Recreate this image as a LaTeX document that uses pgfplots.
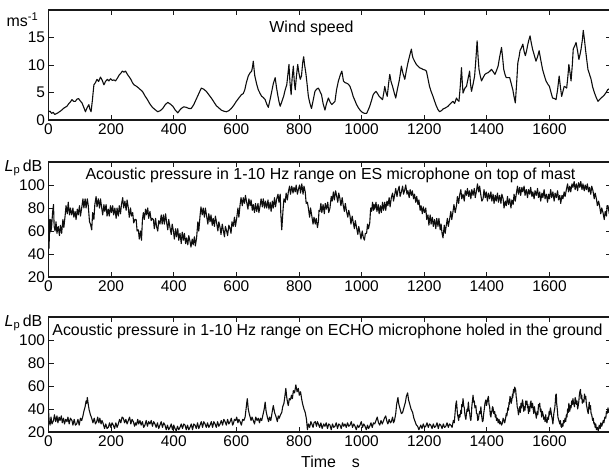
\documentclass[border=0pt]{standalone}
\usepackage{fontspec}
\setmainfont{Liberation Sans}
\usepackage{pgfplots}
\usepackage{pgfplotstable}
\pgfplotsset{compat=1.18}

\pgfplotstableread{
x y
0 1.5
5 1.6
10 1.2
15 1.4
20 1.0
30 1.3
40 1.7
50 2.2
59 2.5
65 3.0
70 3.3
75 3.7
80 3.4
86 3.4
91 3.8
96 3.9
101 3.5
107 3.1
112 2.4
118 1.5
123 2.2
129 2.8
132 2.0
136 1.5
140 3.5
145 6.4
150 6.8
155 7.4
160 7.0
166 7.8
171 7.3
177 6.4
182 7.0
188 7.4
193 7.1
198 7.5
204 7.2
209 7.3
214 7.1
220 7.6
226 8.2
231 8.5
236 8.9
241 8.7
246 8.9
252 8.3
257 7.9
263 7.4
268 6.8
273 6.4
279 6.2
284 6.0
292 5.6
300 5.2
308 4.4
316 3.7
324 2.9
332 2.3
340 1.9
349 1.5
357 1.7
365 2.1
373 2.8
381 3.2
389 2.9
397 2.5
405 1.8
413 1.3
418 1.7
424 2.1
432 2.4
440 2.3
448 2.1
456 2.1
464 2.8
472 3.8
480 4.8
488 5.8
496 5.6
504 5.2
512 4.6
520 4.0
528 3.3
536 2.6
544 2.2
552 1.8
560 1.6
568 1.5
576 1.7
584 2.1
592 2.7
600 3.4
608 4.0
616 4.6
622 4.8
627 5.5
632 6.8
638 8.0
644 8.6
649 8.9
652 9.8
654 10.7
657 9.0
659 8.0
665 6.5
670 5.5
676 4.8
681 4.3
686 4.1
692 3.7
697 2.9
702 2.3
708 3.8
713 5.2
718 6.6
724 7.7
728 6.0
732 4.6
736 3.4
740 2.5
745 3.3
751 4.3
756 5.5
761 6.4
765 8.5
768 10.1
771 7.0
775 4.6
778 7.5
782 9.8
785 7.0
788 5.5
792 8.0
796 10.1
800 8.5
804 7.4
808 8.0
812 10.5
815 11.5
818 10.0
822 8.5
826 6.5
830 4.3
835 3.0
840 2.1
845 3.5
851 5.2
856 5.6
862 5.8
867 5.2
872 4.6
877 3.0
883 1.8
888 3.0
894 4.0
900 3.2
905 2.8
910 3.1
915 3.4
920 5.5
926 7.1
932 8.2
937 8.9
942 7.1
947 6.8
952 6.7
958 6.5
963 6.1
968 5.3
973 4.3
979 3.5
984 2.8
990 2.2
995 1.8
1000 1.5
1005 1.3
1010 1.2
1016 1.2
1021 1.8
1026 2.5
1032 3.6
1037 4.6
1042 5.0
1046 5.2
1051 4.8
1056 4.3
1062 4.0
1067 3.7
1071 5.0
1074 6.1
1078 5.0
1082 4.3
1086 6.5
1090 8.3
1094 7.0
1099 6.1
1104 5.0
1109 4.0
1114 5.5
1120 7.1
1124 8.5
1127 9.8
1132 8.5
1138 7.4
1143 9.0
1148 10.4
1154 11.8
1159 12.9
1162 11.8
1164 11.3
1170 10.6
1175 10.1
1180 9.8
1185 9.5
1190 9.4
1196 9.2
1202 9.1
1207 8.9
1212 7.5
1217 6.1
1222 5.2
1228 4.3
1234 3.3
1239 2.5
1244 1.9
1249 1.5
1255 1.7
1260 2.0
1268 2.2
1276 2.5
1284 3.0
1292 3.4
1297 3.0
1303 4.0
1307 3.6
1311 3.4
1315 6.0
1319 9.5
1322 6.5
1324 4.9
1330 5.8
1335 6.1
1340 7.5
1345 8.9
1348 6.5
1351 5.2
1356 6.5
1361 8.0
1365 11.0
1369 14.4
1372 11.5
1375 9.2
1379 8.0
1383 7.1
1389 7.8
1394 8.3
1399 8.5
1404 8.6
1410 8.9
1415 9.2
1420 8.8
1426 8.3
1431 9.0
1436 9.8
1441 11.5
1447 13.2
1451 11.0
1454 9.2
1458 8.3
1462 7.7
1468 7.7
1473 7.7
1478 6.6
1483 5.5
1487 4.2
1491 3.1
1495 6.5
1499 10.4
1503 11.5
1506 12.6
1511 13.2
1515 13.8
1519 12.5
1523 11.7
1527 12.6
1530 13.5
1534 14.5
1538 15.3
1542 14.0
1546 12.9
1552 11.7
1557 10.7
1562 11.5
1567 12.6
1572 11.0
1578 9.2
1584 8.0
1589 7.1
1595 6.5
1600 6.1
1605 5.0
1610 4.0
1616 3.9
1621 3.7
1626 5.5
1631 8.0
1635 6.0
1639 4.3
1643 5.2
1647 6.1
1651 6.0
1655 5.8
1659 8.0
1662 10.1
1666 8.5
1669 7.1
1673 10.0
1676 12.9
1681 13.5
1685 14.1
1690 12.5
1694 11.0
1698 12.0
1701 12.9
1705 14.5
1708 16.3
1712 14.5
1715 12.9
1719 11.0
1723 9.2
1728 8.3
1733 7.4
1738 6.0
1744 4.9
1750 4.0
1755 3.4
1760 3.7
1765 4.0
1771 4.3
1776 4.6
1781 5.0
1786 5.5
1795 5.8
}\wind

\pgfplotstableread{
x y
0 74
1 60
2 45
3 70
4 58
5 66
7 70
8 60
10 64
13 76
16 83
18 64
21 60
24 68
27 58
31 64
35 56
38 65
42 58
46 70
49 63
53 73
56 82
60 75
63 85
67 74
70 80
74 74
78 80
81 72
85 77
88 70
92 79
95 74
99 82
102 73
106 80
110 88
113 80
117 88
120 80
124 88
127 82
131 68
134 66
138 61
141 76
145 70
148 83
152 90
155 81
159 88
163 80
166 88
170 80
173 74
177 83
180 77
184 83
187 73
191 79
194 73
198 82
201 76
205 82
208 74
212 80
216 71
219 80
223 73
226 82
230 75
233 83
237 89
240 80
244 86
248 78
251 87
255 80
258 72
262 80
265 73
269 76
272 67
276 70
280 70
283 60
287 61
290 53
294 60
297 52
300 70
303 76
306 70
310 79
313 74
317 80
320 71
324 77
328 69
331 71
335 70
338 62
342 71
345 64
349 60
352 69
356 66
360 74
363 66
367 74
370 66
374 75
377 68
381 61
384 70
388 63
392 57
395 66
399 60
402 53
406 62
409 55
413 62
416 52
420 58
424 49
427 59
431 52
434 58
438 49
441 54
445 48
448 56
452 51
455 46
459 53
462 48
466 55
469 47
473 54
477 68
480 60
484 73
487 81
491 74
494 80
498 72
501 80
505 73
509 66
512 75
516 68
519 74
523 65
526 71
530 64
533 73
537 67
541 60
544 68
548 63
551 57
555 66
558 61
562 55
565 64
569 60
572 56
576 65
579 63
583 58
586 68
590 64
594 72
597 64
601 71
605 80
608 72
612 83
615 89
619 82
622 89
626 84
629 91
633 85
637 79
640 88
644 82
647 87
651 78
654 83
658 76
661 84
665 77
669 84
672 76
676 82
679 88
683 81
686 88
690 80
693 86
697 80
701 87
704 79
708 85
711 77
715 86
718 80
722 89
725 81
729 88
733 92
736 85
740 92
742 75
745 61
749 78
752 88
756 85
759 93
763 87
766 94
770 99
773 92
777 99
781 93
784 98
788 94
791 100
795 92
798 96
802 100
805 93
809 101
813 92
816 99
820 94
823 84
827 85
830 80
834 72
837 80
841 73
845 66
848 72
852 66
855 71
859 63
862 68
864 78
867 77
870 84
873 76
877 83
881 75
884 84
888 79
892 85
895 76
899 80
903 90
906 86
910 94
913 87
917 95
920 91
924 85
927 93
931 88
934 82
938 89
941 83
945 77
948 84
952 77
956 72
959 78
963 73
966 66
970 73
973 68
977 62
980 69
984 63
988 57
991 64
995 58
998 53
1002 60
1005 55
1009 52
1012 58
1016 58
1019 66
1022 62
1026 67
1029 80
1032 77
1035 85
1038 78
1040 83
1042 79
1046 85
1049 77
1053 83
1056 75
1060 82
1063 76
1067 85
1070 78
1074 85
1077 78
1081 86
1084 82
1088 89
1091 81
1095 89
1099 93
1102 86
1106 92
1109 97
1113 90
1116 95
1120 99
1123 90
1127 94
1131 99
1134 92
1138 96
1141 100
1145 92
1148 95
1152 89
1155 96
1159 91
1162 95
1166 88
1169 92
1173 85
1176 90
1180 83
1183 87
1187 78
1190 82
1194 75
1197 81
1201 76
1205 80
1208 70
1212 74
1215 65
1219 74
1222 66
1226 72
1229 64
1233 70
1237 62
1240 71
1244 64
1247 71
1251 61
1254 66
1257 58
1260 54
1264 65
1267 58
1270 64
1274 71
1277 64
1281 70
1285 77
1288 70
1292 77
1295 83
1299 76
1303 82
1306 90
1310 84
1313 91
1317 96
1320 88
1324 92
1328 86
1331 95
1335 91
1338 97
1342 90
1345 95
1349 88
1352 96
1356 91
1360 97
1363 89
1367 95
1370 101
1374 94
1377 99
1381 91
1384 86
1388 88
1391 96
1395 89
1398 94
1402 86
1405 93
1409 88
1413 94
1416 86
1420 92
1423 84
1427 91
1430 86
1434 93
1437 85
1441 91
1445 84
1448 92
1452 88
1455 80
1459 86
1462 82
1466 90
1469 83
1473 88
1477 80
1480 87
1484 83
1487 92
1491 86
1494 92
1498 99
1501 92
1505 98
1508 91
1512 98
1515 94
1519 99
1522 91
1526 96
1530 89
1533 96
1537 92
1540 98
1544 90
1547 94
1551 88
1554 95
1558 91
1562 97
1565 89
1569 94
1572 86
1576 93
1579 89
1583 96
1586 88
1590 92
1594 85
1597 92
1600 88
1604 96
1607 89
1611 94
1615 86
1618 93
1622 89
1626 95
1629 87
1633 91
1636 84
1640 91
1643 88
1647 94
1650 90
1654 96
1658 101
1661 94
1665 99
1668 94
1672 101
1675 98
1679 103
1682 96
1686 101
1690 95
1693 102
1697 98
1700 103
1704 96
1707 101
1711 95
1714 100
1718 96
1721 101
1725 94
1728 98
1732 92
1735 99
1739 95
1743 88
1746 93
1750 88
1753 82
1757 86
1760 82
1764 75
1767 80
1771 76
1775 70
1778 77
1782 73
1784 82
1787 82
1791 75
1795 78
}\esmic

\pgfplotstableread{
x y
0 39
2 30
5 26
8 33
11 27
16 30
19 35
23 29
27 34
30 28
34 33
37 30
41 34
44 28
48 32
51 27
55 31
59 29
62 33
66 27
70 32
75 30
78 26
82 31
86 26
90 27
94 31
98 26
102 32
106 30
110 34
113 38
117 42
120 47
122 45
124 50
127 44
130 39
134 35
138 32
142 28
146 32
150 27
154 29
157 33
161 28
164 32
168 27
171 30
175 27
179 23
183 27
187 23
191 24
195 28
199 24
203 28
207 26
211 23
215 28
219 24
223 27
227 31
231 28
235 33
239 32
243 28
247 31
251 27
255 30
259 33
263 27
267 31
271 29
275 25
278 28
281 26
285 31
288 27
292 30
296 26
300 29
304 24
308 26
312 30
316 25
320 29
324 27
328 30
332 25
336 29
340 27
344 24
348 28
352 23
356 26
360 29
364 24
368 28
372 26
376 22
380 26
384 22
388 24
392 27
396 22
400 26
404 23
408 21
412 25
416 22
420 24
424 27
428 23
432 27
436 26
440 22
444 26
448 22
452 24
456 27
460 22
464 27
468 26
472 23
476 28
480 23
484 26
488 29
492 24
496 29
500 27
504 24
508 28
512 24
516 26
520 29
524 24
528 29
532 27
536 24
540 29
544 25
548 27
552 30
556 26
560 31
564 29
568 26
572 31
576 27
580 29
584 32
588 26
590 27
594 31
598 30
601 33
605 28
608 31
612 29
616 26
620 31
624 30
628 33
631 40
633 45
635 49
638 40
641 36
644 33
647 30
650 33
654 30
658 27
662 33
666 30
670 32
674 28
677 32
681 30
685 35
689 40
692 46
695 38
699 33
703 29
706 33
710 30
713 35
716 40
718 43
722 37
727 33
731 29
734 34
737 32
741 35
745 37
748 42
752 45
755 51
758 58
761 50
764 45
766 43
769 49
773 48
776 52
779 49
782 56
786 54
790 61
794 55
798 58
801 52
805 55
809 48
812 44
816 40
820 37
824 31
827 22
830 27
834 24
838 29
841 27
845 24
848 28
852 29
856 25
859 29
862 27
866 24
870 28
874 23
879 27
883 25
887 28
891 23
895 27
899 26
903 22
907 27
911 24
915 25
919 28
923 23
927 27
931 26
935 23
939 28
943 25
947 27
951 24
955 28
959 25
963 26
967 29
971 24
975 27
979 25
983 22
987 26
991 24
995 26
999 29
1003 24
1007 27
1011 25
1015 22
1019 26
1022 23
1026 25
1030 28
1034 24
1038 28
1042 27
1046 30
1050 33
1054 28
1058 26
1062 30
1066 27
1069 29
1073 32
1077 34
1081 29
1084 27
1088 31
1092 28
1095 29
1099 33
1102 28
1105 30
1109 36
1112 44
1116 50
1119 44
1123 40
1127 36
1131 37
1135 41
1140 46
1143 51
1147 54
1150 48
1154 44
1158 40
1163 37
1167 32
1171 29
1175 26
1179 25
1183 22
1189 26
1193 23
1197 27
1201 24
1205 25
1209 28
1213 24
1217 27
1221 26
1225 23
1229 27
1233 24
1237 25
1241 28
1245 23
1249 27
1253 26
1257 23
1261 27
1265 24
1269 25
1273 28
1277 24
1281 27
1285 26
1289 24
1293 30
1296 28
1299 38
1301 44
1303 47
1305 40
1306 36
1308 33
1310 30
1312 35
1314 33
1317 39
1319 36
1320 44
1322 42
1324 49
1326 43
1328 41
1330 35
1333 31
1335 36
1337 40
1339 38
1341 46
1343 40
1345 37
1347 32
1349 30
1351 36
1352 42
1354 47
1356 52
1358 46
1360 47
1362 41
1365 43
1367 36
1369 36
1371 30
1373 31
1375 35
1377 38
1379 36
1381 42
1383 35
1384 33
1386 29
1388 30
1390 36
1392 40
1394 45
1397 48
1399 43
1401 46
1403 49
1405 51
1407 44
1409 42
1411 35
1413 33
1415 38
1416 37
1418 42
1420 41
1422 36
1425 38
1427 33
1429 35
1431 30
1434 32
1436 28
1439 31
1441 27
1444 29
1447 26
1450 28
1452 32
1455 30
1457 28
1460 32
1462 36
1464 34
1467 41
1469 39
1471 46
1472 44
1474 51
1476 49
1478 45
1480 48
1482 53
1483 50
1485 57
1487 54
1489 59
1492 57
1494 50
1495 49
1497 42
1499 40
1501 35
1503 38
1505 42
1507 37
1509 45
1511 41
1514 48
1516 44
1518 38
1520 42
1522 39
1524 47
1526 44
1528 47
1530 41
1531 44
1533 36
1535 42
1537 38
1539 45
1541 47
1543 41
1546 45
1548 40
1550 36
1552 42
1554 38
1556 36
1558 32
1561 38
1563 35
1565 44
1567 42
1569 45
1571 38
1573 40
1575 33
1577 38
1580 35
1582 31
1584 33
1586 29
1588 35
1590 30
1592 28
1595 33
1597 31
1599 38
1601 35
1603 41
1605 38
1607 34
1609 31
1611 27
1612 30
1614 36
1617 41
1619 47
1620 52
1622 53
1623 45
1625 40
1627 33
1629 31
1631 29
1633 27
1635 30
1637 25
1639 24
1641 27
1643 25
1645 30
1647 28
1650 32
1652 29
1654 35
1656 33
1658 40
1660 37
1662 45
1663 42
1665 38
1667 43
1669 41
1671 47
1673 44
1675 49
1677 45
1680 42
1682 50
1684 48
1686 44
1688 47
1690 40
1692 43
1694 47
1695 51
1697 55
1699 57
1701 49
1703 52
1705 45
1708 48
1710 46
1712 53
1714 49
1716 51
1718 44
1720 41
1722 38
1724 36
1726 43
1727 46
1729 40
1731 43
1733 36
1735 35
1738 30
1740 32
1742 27
1744 28
1746 24
1748 27
1750 22
1753 24
1756 21
1759 26
1762 23
1764 28
1767 25
1769 27
1772 30
1774 28
1777 33
1780 32
1782 38
1784 36
1787 41
1789 37
1791 39
1795 42
}\echomic

\pgfplotsset{
  panel/.style={
    scale only axis, width=562bp,
    xmin=0, xmax=1795,
    xtick={0,200,400,600,800,1000,1200,1400,1600},
    tick align=inside, major tick length=5bp,
    tick style={line width=0.9pt, black!90},
    axis line style={line width=1.1pt, black!90},
    tick label style={font=\fontsize{15.5}{17}\selectfont, text=black},
    /pgf/number format/assume math mode=true,
    /pgf/number format/1000 sep={},
    anchor=south west,
  },
  trace/.style={line width=1.1pt, black!95, line join=round},
}

\begin{document}
\begin{tikzpicture}
\path[use as bounding box] (-48.5bp,-473bp) rectangle (560.5bp,0bp);

\begin{axis}[panel, at={(0bp,-120bp)}, height=110bp,
  ymin=0, ymax=20, ytick={0,5,10,15}]
  \addplot[trace] table[x=x,y=y] {\wind};
\end{axis}

\begin{axis}[panel, at={(0bp,-277bp)}, height=115bp,
  ymin=20, ymax=120, ytick={20,40,60,80,100}]
  \addplot[trace] table[x=x,y=y] {\esmic};
\end{axis}

\begin{axis}[panel, at={(0bp,-432bp)}, height=115bp,
  ymin=20, ymax=120, ytick={20,40,60,80,100}]
  \addplot[trace] table[x=x,y=y] {\echomic};
\end{axis}

\begin{scope}[every node/.style={font=\fontsize{16}{19}\selectfont, text=black, inner sep=0pt}]
\node at (263bp,-28bp) {Wind speed};
\node at (282bp,-175bp) {Acoustic pressure in 1-10 Hz range on ES microphone on top of mast};
\node at (279bp,-331bp) {Acoustic pressure in 1-10 Hz range on ECHO microphone holed in the ground};
\node at (-26bp,-20bp) {ms\textsuperscript{-1}};
\node at (-25bp,-168bp) {\textit{L}\textsubscript{p}\,dB};
\node at (-25bp,-323bp) {\textit{L}\textsubscript{p}\,dB};
\node at (282bp,-462bp) {Time\hspace{16bp}s};
\end{scope}
\end{tikzpicture}
\end{document}
